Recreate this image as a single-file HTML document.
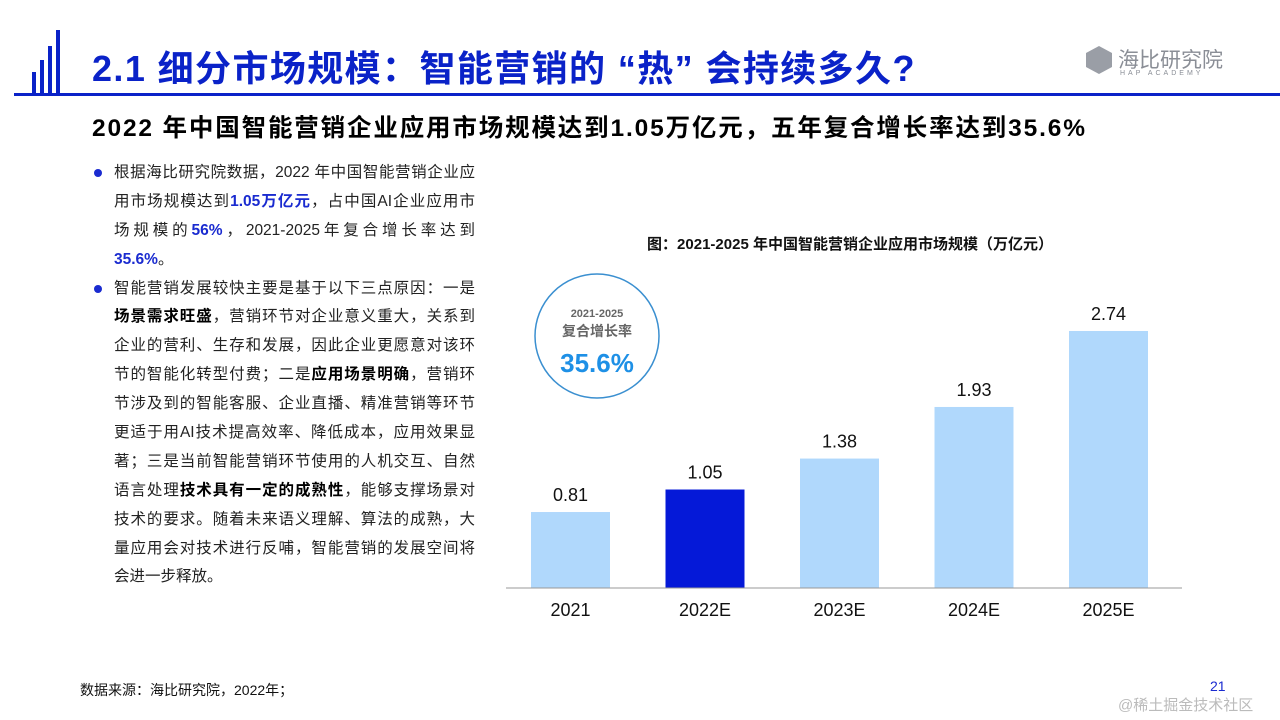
<!DOCTYPE html>
<html><head><meta charset="utf-8"><style>
body{margin:0;width:1280px;height:720px;background:#fff;position:relative;overflow:hidden;font-family:"Liberation Sans","Noto Sans CJK SC",sans-serif}
.abs{position:absolute}
.title{left:92px;top:40px;font-size:36px;font-weight:bold;color:#0a22c8;letter-spacing:1.4px;white-space:nowrap}
.sub{left:92px;top:109px;font-size:24.5px;font-weight:bold;color:#000;letter-spacing:1.85px;white-space:nowrap}
.body{left:92px;top:159px;width:383px;font-size:15.5px;line-height:28.9px;color:#222}
.body p{margin:0;padding-left:22px;position:relative}
.body p:before{content:"";position:absolute;left:2px;top:10px;width:8px;height:8px;border-radius:50%;background:#1a2bd0}
.body .l{display:block;white-space:nowrap;text-align:justify;text-align-last:justify;height:28.9px}
.body .l.e{text-align-last:left}
.b{color:#1a2bd0;font-weight:bold}.k{font-weight:bold;color:#000}
</style></head><body>
<div class="abs" style="left:30px;top:30px;width:40px;height:64px">
<div class="abs" style="left:2px;top:42px;width:4px;height:22px;background:#0a22c8"></div>
<div class="abs" style="left:10px;top:30px;width:4px;height:34px;background:#0a22c8"></div>
<div class="abs" style="left:18px;top:16px;width:4px;height:48px;background:#0a22c8"></div>
<div class="abs" style="left:26px;top:0px;width:4px;height:64px;background:#0a22c8"></div>
</div>
<div class="abs title">2.1 细分市场规模：智能营销的 “热” 会持续多久?</div>
<div class="abs" style="left:14px;top:93px;width:1266px;height:3px;background:#0a22c8"></div>
<div class="abs" style="left:1086px;top:44px;width:140px;height:36px">
<div class="abs" style="left:0;top:2px;width:26px;height:28px;background:#9a9ea6;clip-path:polygon(50% 0,100% 25%,100% 75%,50% 100%,0 75%,0 25%)"></div>
<div class="abs" style="left:32px;top:0;font-size:21px;color:#8a8e96">海比研究院</div>
<div class="abs" style="left:34px;top:26px;font-size:7px;letter-spacing:3px;color:#8a8e96">HAP ACADEMY</div>
</div>
<div class="abs sub">2022 年中国智能营销企业应用市场规模达到1.05万亿元，五年复合增长率达到35.6%</div>
<div class="abs body">
<p><span class="l">根据海比研究院数据，2022 年中国智能营销企业应</span><span class="l">用市场规模达到<span class="b">1.05万亿元</span>，占中国AI企业应用市</span><span class="l">场规模的<span class="b">56%</span>，2021-2025年复合增长率达到</span><span class="l e"><span class="b">35.6%</span>。</span></p>
<p><span class="l">智能营销发展较快主要是基于以下三点原因：一是</span><span class="l"><span class="k">场景需求旺盛</span>，营销环节对企业意义重大，关系到</span><span class="l">企业的营利、生存和发展，因此企业更愿意对该环</span><span class="l">节的智能化转型付费；二是<span class="k">应用场景明确</span>，营销环</span><span class="l">节涉及到的智能客服、企业直播、精准营销等环节</span><span class="l">更适于用AI技术提高效率、降低成本，应用效果显</span><span class="l">著；三是当前智能营销环节使用的人机交互、自然</span><span class="l">语言处理<span class="k">技术具有一定的成熟性</span>，能够支撑场景对</span><span class="l">技术的要求。随着未来语义理解、算法的成熟，大</span><span class="l">量应用会对技术进行反哺，智能营销的发展空间将</span><span class="l e">会进一步释放。</span></p>
</div>
<div class="abs" style="left:500px;top:233px;width:700px;text-align:center;font-size:15px;font-weight:bold;color:#111">图：2021-2025 年中国智能营销企业应用市场规模（万亿元）</div>
<svg class="abs" style="left:0;top:0" width="1280" height="720">
<g id="g"></g>
<circle cx="597" cy="336" r="62" fill="none" stroke="#3a8fd0" stroke-width="1.5"/>
<text x="597" y="317" text-anchor="middle" font-size="11" font-weight="bold" fill="#666">2021-2025</text>
<text x="597" y="336" text-anchor="middle" font-size="14" font-weight="bold" fill="#666" font-family="Liberation Sans,Noto Sans CJK SC,sans-serif">复合增长率</text>
<text x="597" y="372" text-anchor="middle" font-size="26" font-weight="bold" fill="#1e90e6">35.6%</text>
</svg>
<div class="abs" style="left:80px;top:680px;font-size:14px;color:#111">数据来源：海比研究院，2022年；</div>
<div class="abs" style="left:1210px;top:678px;font-size:14px;color:#1a2bd0">21</div>
<div class="abs" style="left:1118px;top:694px;font-size:15px;color:#bbb">@稀土掘金技术社区</div>
<script>
const categories=["2021","2022E","2023E","2024E","2025E"];
const values=[0.81,1.05,1.38,1.93,2.74];
const labels=["0.81","1.05","1.38","1.93","2.74"];
const NS="http://www.w3.org/2000/svg",g=document.getElementById("g");
const base=588,scale=93.8,x0=531,step=134.5,bw=79;
const xPos=i=>x0+i*step, yPos=v=>base-v*scale;
function mk(t,a){const e=document.createElementNS(NS,t);for(const k in a)e.setAttribute(k,a[k]);g.appendChild(e);return e;}
categories.forEach((c,i)=>{
 const r=mk("rect",{x:xPos(i),y:yPos(values[i]),width:bw,height:values[i]*scale,fill:i==1?"#0519d8":"#b0d8fc"});
 
 
 const t=mk("text",{x:xPos(i)+bw/2,y:yPos(values[i])-11,"text-anchor":"middle","font-size":18,fill:"#111"});t.textContent=labels[i];
 
 
 const l=mk("text",{x:xPos(i)+bw/2,y:616,"text-anchor":"middle","font-size":18,fill:"#111"});l.textContent=c;
 
 
});
const ax=mk("line",{x1:506,x2:1182,y1:base,y2:base,stroke:"#999","stroke-width":1});


</script>
</body></html>
